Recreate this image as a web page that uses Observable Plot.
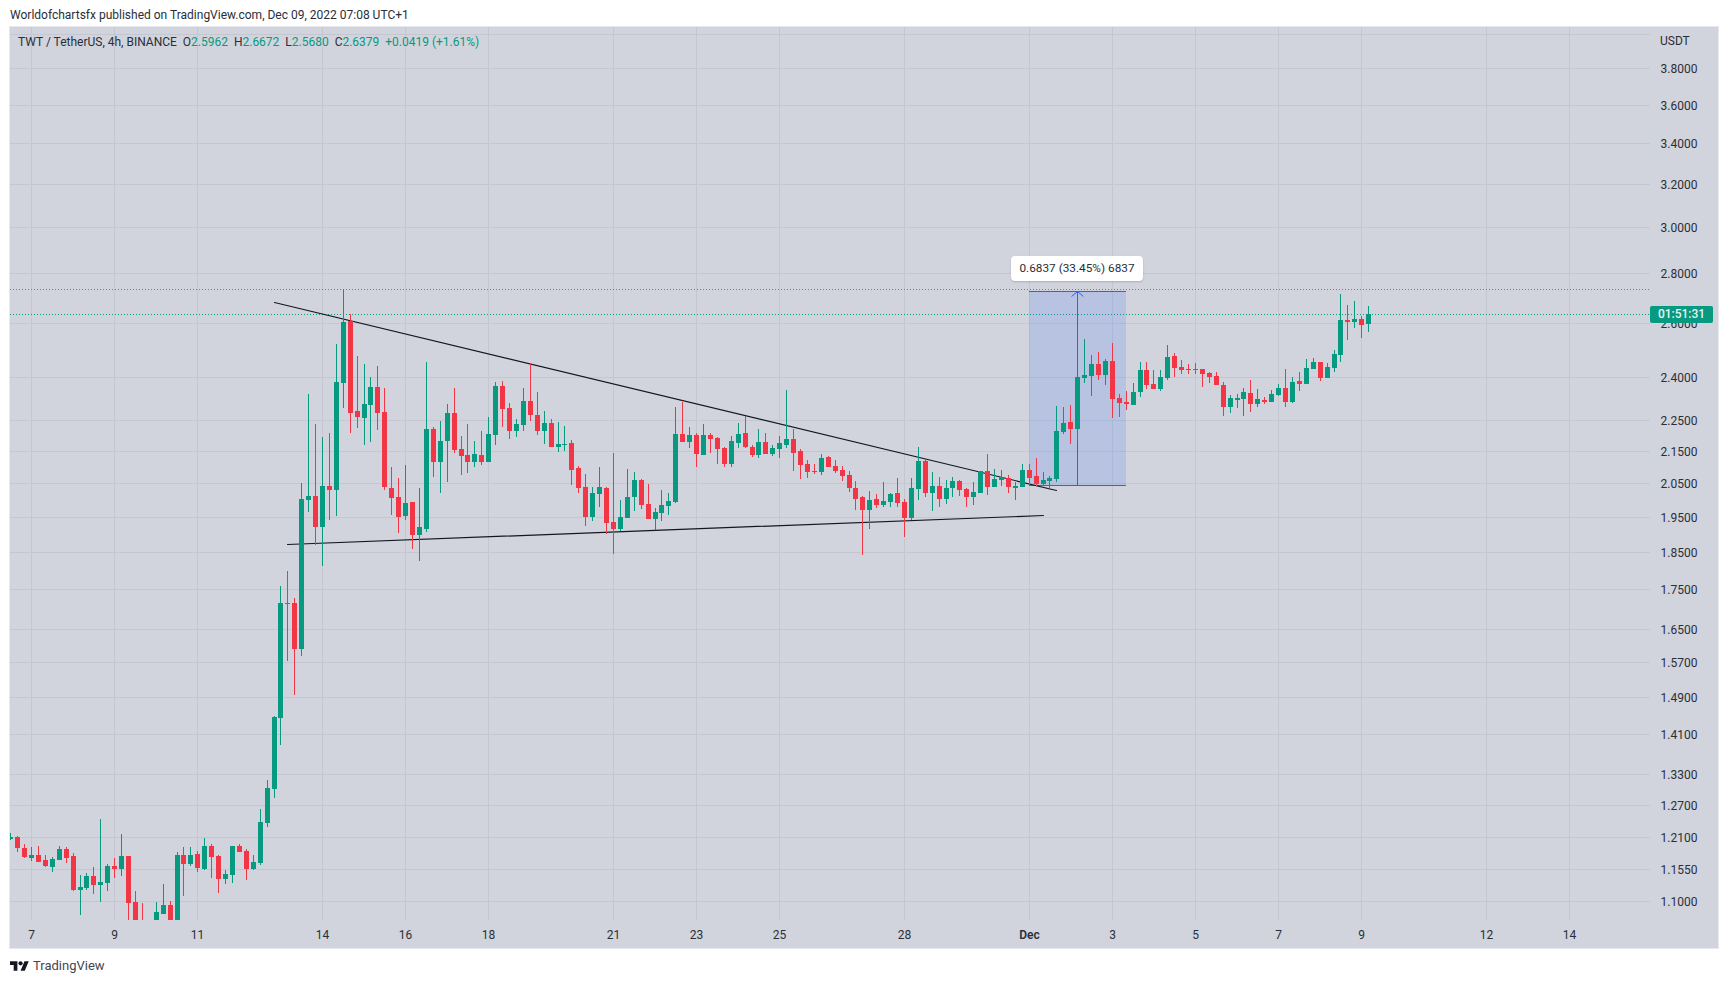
<!DOCTYPE html>
<html>
<head>
<meta charset="utf-8">
<script src="https://cdn.jsdelivr.net/npm/d3@7"></script>
<script src="https://cdn.jsdelivr.net/npm/@observablehq/plot@0.6"></script>
<style>
  html, body { margin:0; padding:0; background:#fff; width:1728px; height:983px; overflow:hidden; }
  body { font-family: Roboto, "Open Sans", sans-serif; color:#131722; position:relative; }
  #panel { position:absolute; left:10px; top:27px; width:1708px; height:921px; background:#d1d4dc; box-shadow:0 0 0 1px #e6e8ee; }
  #chart { position:absolute; left:0; top:0; }
  #chart svg { background:transparent; display:block; }
  .txt { position:absolute; white-space:pre; }
  #pub { left:10px; top:8px; font-size:12px; line-height:15px; color:#2a2e39; }
  #legend { left:18px; top:35px; font-size:12px; line-height:15px; color:#2a2e39; }
  #legend b { font-weight:400; color:#089981; }
  #unit { left:1660px; top:34px; font-size:12px; line-height:15px; color:#2a2e39; }
  #badge { left:1650px; top:306px; width:63px; height:17px; line-height:17px; text-align:center; background:#089981; color:#e6f5f2; font-size:12px; font-weight:500; border-radius:2px; }
  #measure { left:1011px; top:256px; width:132px; height:25px; line-height:25px; text-align:center; background:#fff; border-radius:4px; font-size:11.8px; color:#2a2e39; box-shadow:0 1px 2px rgba(0,0,0,.18); }
  #brand { left:33px; top:957px; font-size:13px; line-height:17px; color:#434651; }
  #logo { position:absolute; left:10px; top:959px; width:19px; height:15px; }
</style>
</head>
<body>
<div id="panel"></div>
<div id="chart"></div>
<div class="txt" id="pub">Worldofchartsfx published on TradingView.com, Dec 09, 2022 07:08 UTC+1</div>
<div class="txt" id="legend">TWT / TetherUS, 4h, BINANCE  O<b>2.5962</b>  H<b>2.6672</b>  L<b>2.5680</b>  C<b>2.6379</b>  <b>+0.0419 (+1.61%)</b></div>
<div class="txt" id="unit">USDT</div>
<div class="txt" id="badge">01:51:31</div>
<div class="txt" id="measure">0.6837 (33.45%) 6837</div>
<svg id="logo" viewBox="0 0 36 28"><path fill="#131722" d="M14 22H7V11H0V4h14v18zM28 22h-8l7.5-18h8L28 22z"></path><circle fill="#131722" cx="20" cy="8" r="4"></circle></svg>
<div class="txt" id="brand">TradingView</div>

<script>
// 4h candles, the first one opens on 2022-11-06 12:00 UTC
const firstBar = Date.UTC(2022, 10, 6, 12);
const barHours = 4;

const open = [
1.207,1.211,1.191,1.173,1.179,1.170,1.158,1.170,1.189,1.177,
1.119,1.122,1.142,1.127,1.130,1.159,1.154,1.177,1.099,1.064,
1.052,1.058,1.079,1.094,1.060,1.179,1.163,1.180,1.154,1.195,
1.177,1.137,1.144,1.195,1.186,1.154,1.164,1.236,1.300,1.445,
1.715,1.715,1.601,1.999,2.011,1.920,2.041,2.029,2.379,2.609,
2.282,2.258,2.302,2.365,2.279,2.035,2.008,1.952,1.993,1.897,
1.914,2.222,2.115,2.182,2.275,2.157,2.137,2.115,2.137,2.115,
2.202,2.368,2.292,2.215,2.235,2.316,2.268,2.215,2.241,2.163,
2.169,2.176,2.096,2.038,1.949,2.017,2.035,1.935,1.914,1.946,
2.008,2.059,1.987,1.943,1.960,1.981,1.993,2.205,2.179,2.202,
2.137,2.202,2.192,2.160,2.109,2.176,2.208,2.163,2.137,2.179,
2.141,2.157,2.169,2.189,2.150,2.109,2.087,2.084,2.131,2.103,
2.090,2.075,2.035,2.008,1.969,2.002,1.984,1.993,2.020,1.993,
1.946,2.032,2.118,2.020,2.041,2.002,2.035,2.056,2.032,2.008,
2.020,2.087,2.038,2.059,2.065,2.035,2.038,2.090,2.071,2.047,
2.056,2.062,2.211,2.245,2.222,2.397,2.404,2.447,2.407,2.458,
2.326,2.313,2.302,2.347,2.425,2.375,2.358,2.397,2.477,2.436,
2.429,2.429,2.429,2.415,2.404,2.372,2.295,2.320,2.323,2.344,
2.306,2.320,2.313,2.337,2.361,2.313,2.386,2.375,2.429,2.454,
2.397,2.433,2.480,2.613,2.605,2.616,2.5962];

const high = [
1.217,1.212,1.198,1.193,1.194,1.179,1.175,1.194,1.193,1.182,
1.144,1.147,1.158,1.243,1.163,1.173,1.216,1.177,1.117,1.097,
1.062,1.099,1.129,1.100,1.184,1.193,1.193,1.186,1.209,1.198,
1.179,1.152,1.195,1.198,1.189,1.179,1.262,1.318,1.449,1.759,
1.798,1.727,2.050,2.340,2.238,2.195,2.208,2.521,2.736,2.636,
2.477,2.447,2.400,2.440,2.361,2.100,2.065,2.106,1.993,2.035,
2.455,2.228,2.248,2.306,2.361,2.198,2.238,2.182,2.215,2.262,
2.383,2.386,2.309,2.255,2.361,2.451,2.347,2.282,2.255,2.245,
2.232,2.186,2.103,2.078,2.038,2.100,2.038,2.144,1.999,2.093,
2.084,2.062,2.047,1.975,2.029,2.020,2.296,2.313,2.228,2.208,
2.238,2.208,2.195,2.163,2.198,2.241,2.265,2.169,2.222,2.208,
2.169,2.198,2.354,2.222,2.157,2.121,2.109,2.141,2.134,2.121,
2.103,2.087,2.056,2.011,2.026,2.017,2.053,2.020,2.065,2.002,
2.065,2.163,2.128,2.084,2.068,2.059,2.068,2.059,2.035,2.053,
2.087,2.141,2.093,2.090,2.075,2.053,2.109,2.109,2.128,2.084,
2.071,2.299,2.296,2.302,2.400,2.540,2.480,2.491,2.465,2.525,
2.340,2.351,2.379,2.454,2.454,2.425,2.425,2.518,2.488,2.462,
2.447,2.451,2.429,2.418,2.418,2.383,2.337,2.340,2.361,2.390,
2.358,2.330,2.354,2.375,2.429,2.400,2.418,2.465,2.469,2.454,
2.451,2.499,2.716,2.672,2.688,2.628,2.6672];

const low = [
1.205,1.184,1.173,1.168,1.166,1.158,1.149,1.170,1.164,1.117,
1.078,1.119,1.112,1.099,1.117,1.139,1.142,1.059,1.049,1.044,
1.040,1.050,1.079,1.052,1.050,1.108,1.159,1.149,1.152,1.139,
1.114,1.129,1.130,1.184,1.135,1.152,1.161,1.229,1.283,1.388,
1.573,1.495,1.585,1.963,1.869,1.812,1.940,1.952,2.292,2.208,
2.225,2.169,2.179,2.218,2.029,1.955,1.903,1.940,1.858,1.825,
1.906,2.068,2.020,2.053,2.144,2.075,2.081,2.100,2.106,2.115,
2.169,2.228,2.189,2.195,2.215,2.248,2.202,2.172,2.163,2.147,
2.150,2.044,2.020,1.923,1.937,1.978,1.900,1.844,1.909,1.946,
1.966,1.972,1.943,1.912,1.937,1.955,1.990,2.179,2.160,2.100,
2.137,2.144,2.109,2.100,2.100,2.160,2.160,2.131,2.128,2.141,
2.134,2.128,2.160,2.087,2.062,2.065,2.078,2.075,2.100,2.081,
2.056,2.023,1.969,1.842,1.914,1.975,1.978,1.978,1.978,1.892,
1.940,1.999,2.008,1.966,1.978,1.987,2.008,2.011,1.978,1.984,
2.020,2.014,2.038,2.041,2.020,1.999,2.038,2.044,2.041,2.044,
2.029,2.053,2.205,2.172,2.179,2.379,2.333,2.390,2.372,2.258,
2.262,2.285,2.302,2.330,2.358,2.358,2.351,2.390,2.400,2.411,
2.411,2.411,2.365,2.379,2.372,2.265,2.275,2.292,2.265,2.279,
2.295,2.306,2.313,2.333,2.295,2.309,2.351,2.375,2.429,2.386,
2.397,2.418,2.454,2.536,2.582,2.544,2.5680];

const close = [
1.211,1.190,1.175,1.179,1.166,1.159,1.172,1.189,1.173,1.119,
1.124,1.142,1.127,1.132,1.159,1.154,1.177,1.097,1.059,1.054,
1.058,1.083,1.094,1.060,1.179,1.163,1.179,1.156,1.195,1.175,
1.137,1.146,1.194,1.184,1.154,1.166,1.238,1.302,1.447,1.715,
1.712,1.601,2.002,2.011,1.920,2.041,2.029,2.383,2.605,2.275,
2.262,2.306,2.365,2.275,2.038,2.005,1.949,1.990,1.897,1.920,
2.222,2.115,2.182,2.275,2.153,2.134,2.115,2.141,2.115,2.205,
2.368,2.289,2.215,2.238,2.316,2.268,2.215,2.241,2.163,2.172,
2.172,2.090,2.035,1.949,2.020,2.038,1.932,1.914,1.949,2.008,
2.059,1.984,1.943,1.963,1.984,1.996,2.205,2.179,2.202,2.141,
2.202,2.189,2.157,2.109,2.182,2.205,2.163,2.137,2.179,2.141,
2.160,2.176,2.189,2.144,2.106,2.084,2.084,2.128,2.100,2.087,
2.071,2.035,2.002,1.969,1.999,1.984,1.996,2.017,1.990,1.946,
2.035,2.118,2.020,2.041,2.002,2.035,2.056,2.029,2.008,2.023,
2.087,2.038,2.062,2.068,2.038,2.041,2.090,2.065,2.047,2.059,
2.065,2.215,2.241,2.222,2.400,2.407,2.447,2.407,2.458,2.323,
2.309,2.306,2.347,2.425,2.372,2.358,2.400,2.473,2.433,2.425,
2.425,2.425,2.411,2.400,2.372,2.295,2.326,2.326,2.347,2.306,
2.323,2.313,2.340,2.361,2.313,2.383,2.375,2.433,2.454,2.397,
2.436,2.484,2.613,2.605,2.616,2.594,2.6379];

// Axis ticks
const priceTicks = [3.8,3.6,3.4,3.2,3.0,2.8,2.6,2.4,2.25,2.15,2.05,1.95,1.85,1.75,1.65,1.57,1.49,1.41,1.33,1.27,1.21,1.155,1.10];
const priceGrid = [4.0, ...priceTicks];
const dateTickDates = ["2022-11-07","2022-11-09","2022-11-11","2022-11-14","2022-11-16","2022-11-18","2022-11-21","2022-11-23","2022-11-25","2022-11-28","2022-12-01","2022-12-03","2022-12-05","2022-12-07","2022-12-09","2022-12-12","2022-12-14"];
const dateTickLabels = ["7","9","11","14","16","18","21","23","25","28","Dec","3","5","7","9","12","14"];

// Drawings on the chart
const resistanceDates = ["2022-11-12T20:00Z","2022-12-01T16:00Z"];
const resistancePrices = [2.685, 2.029];
const supportDates = ["2022-11-13T04:00Z","2022-12-01T08:00Z"];
const supportPrices = [1.872, 1.955];
const measureDates = ["2022-12-01T00:00Z","2022-12-03T08:00Z"];
const measureArrowDate = "2022-12-02T04:00Z";
const measurePrices = [2.0443, 2.728];
const highLine = 2.736;
const lastPrice = 2.6379;

// Visible window of the chart
const xWindow = [new Date("2022-11-06T11:52Z"), new Date("2022-12-15T22:43Z")];
const yWindow = [1.0698, 4.0406];

const GREEN = "#089981", RED = "#f23645", BLUE = "#2962ff", GRID = "#c4c7d1", INK = "#131722", TICK = "#2a2e39";

const bars = open.map((o, i) => ({
  date: new Date(firstBar + i * barHours * 3600e3),
  open: o, high: high[i], low: low[i], close: close[i],
  color: close[i] >= o ? GREEN : RED
}));
const toDate = s => new Date(s);
const labelOf = new Map(dateTickDates.map((d, i) => [+new Date(d + "T00:00Z"), dateTickLabels[i]]));
const xTicks = dateTickDates.map(d => new Date(d + "T00:00Z"));

const plot = Plot.plot({
  width: 1728, height: 983,
  marginTop: 27, marginBottom: 63, marginLeft: 10, marginRight: 78,
  style: { background: "transparent", fontFamily: "Roboto, sans-serif", fontSize: "12px" },
  x: { type: "utc", domain: xWindow, round: true },
  y: { type: "log", domain: yWindow, round: true },
  marks: [
    Plot.gridX(xTicks, { x: d => d, stroke: GRID, strokeOpacity: 1, strokeWidth: 1 }),
    Plot.gridY(priceGrid, { y: d => d, stroke: GRID, strokeOpacity: 1, strokeWidth: 1 }),
    Plot.ruleY([highLine], { stroke: "#787b86", strokeWidth: 1, strokeDasharray: "1 2" }),
    Plot.ruleY([lastPrice], { stroke: GREEN, strokeWidth: 1, strokeDasharray: "1 2" }),
    Plot.rect([0], { x1: () => toDate(measureDates[0]), x2: () => toDate(measureDates[1]), y1: () => measurePrices[0], y2: () => measurePrices[1], fill: BLUE, fillOpacity: 0.15 }),
    Plot.ruleY(measurePrices, { x1: () => toDate(measureDates[0]), x2: () => toDate(measureDates[1]), y: d => d, stroke: BLUE, strokeWidth: 1 }),
    Plot.arrow([0], { x1: () => toDate(measureArrowDate), x2: () => toDate(measureArrowDate), y1: () => measurePrices[0], y2: () => measurePrices[1], stroke: BLUE, strokeWidth: 1, headLength: 11, headAngle: 100, bend: 0 }),
    Plot.line(resistanceDates.map((d, i) => [toDate(d), resistancePrices[i]]), { x: d => d[0], y: d => d[1], stroke: INK, strokeWidth: 1.2, clip: true }),
    Plot.line(supportDates.map((d, i) => [toDate(d), supportPrices[i]]), { x: d => d[0], y: d => d[1], stroke: INK, strokeWidth: 1.2, clip: true }),
    Plot.ruleX(bars, { x: "date", y1: "low", y2: "high", stroke: "color", strokeWidth: 1, clip: true }),
    Plot.ruleX(bars, { x: "date", y1: "open", y2: "close", stroke: "color", strokeWidth: 5, clip: true }),
    Plot.axisX({ ticks: xTicks, tickFormat: d => labelOf.get(+d), tickSize: 0, tickPadding: 10, label: null, color: TICK, fontSize: 12 }),
    Plot.axisY({ anchor: "right", ticks: priceTicks, tickFormat: d => d.toFixed(4), tickSize: 0, tickPadding: 10, dy: 1, label: null, color: TICK, fontSize: 12 })
  ]
});
document.getElementById("chart").appendChild(plot);
d3.select(plot).selectAll("text").filter(function () { return this.textContent === "Dec"; }).attr("font-weight", 600);
</script>
</body>
</html>
